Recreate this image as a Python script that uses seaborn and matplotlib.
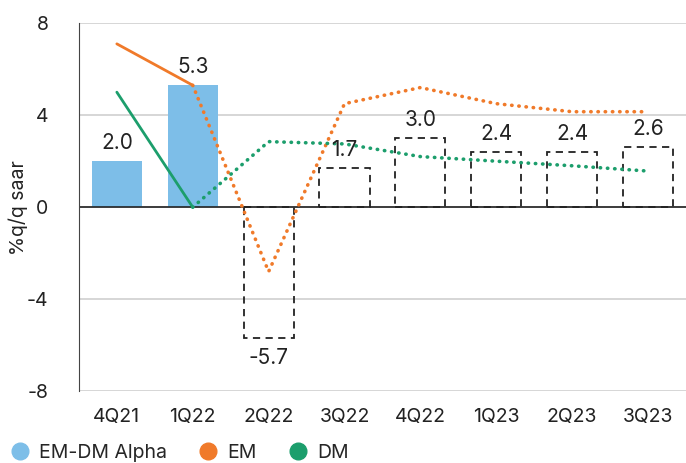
import numpy as np
import pandas as pd
import seaborn as sns
import matplotlib.pyplot as plt
from matplotlib.lines import Line2D

quarters = ['4Q21', '1Q22', '2Q22', '3Q22', '4Q22', '1Q23', '2Q23', '3Q23']
alpha = [2.0, 5.3, -5.7, 1.7, 3.0, 2.4, 2.4, 2.6]
em = [7.1, 5.3, -2.8, 4.5, 5.2, 4.5, 4.15, 4.15]
dm = [5.0, 0.0, 2.85, 2.75, 2.2, 2.0, 1.8, 1.57]
n_actual = 2  # first two quarters are actuals, rest forecast

blue = '#7DBEE8'
orange = '#F07A2A'
green = '#1C9E6C'

sns.set_style('white')
plt.rcParams['font.family'] = ['Inter', 'DejaVu Sans']

df = pd.DataFrame({'quarter': quarters, 'alpha': alpha})

fig = plt.figure(figsize=(6.86, 4.63), dpi=100)
ax = fig.add_axes([0.115, 0.155, 0.885, 0.795])

sns.barplot(data=df, x='quarter', y='alpha', color=blue, width=0.66,
            saturation=1, ax=ax)
for i, p in enumerate(ax.patches):
    if i >= n_actual:
        p.set_facecolor('none')
        p.set_edgecolor('#222222')
        p.set_linestyle((0, (4, 3)))
        p.set_linewidth(1.3)
    else:
        p.set_edgecolor('none')

x = np.arange(len(quarters))
for vals, c in [(em, orange), (dm, green)]:
    ax.plot(x[:n_actual], vals[:n_actual], color=c, lw=2, zorder=3)
    ax.plot(x[n_actual - 1:], vals[n_actual - 1:], color=c, lw=2.6,
            linestyle=(0, (0.1, 1.9)), dash_capstyle='round', zorder=3)

for i, v in enumerate(alpha):
    off = 6 if v >= 0 else -7
    ax.annotate(f'{v:.1f}', (i, v), xytext=(0, off), textcoords='offset points',
                ha='center', va='bottom' if v >= 0 else 'top', fontsize=15,
                color='#222222')

ax.set_ylim(-8, 8)
ax.set_xlim(-0.5, 7.5)
ax.set_yticks([-8, -4, 0, 4, 8])
ax.set_yticklabels(['-8', '-4', '0', '4', '8'])
ax.yaxis.grid(True, color='#D0D0D0', lw=1.2)
ax.set_axisbelow(True)
ax.axhline(0, color='#222222', lw=1.2, zorder=2)
for s in ['top', 'right', 'bottom']:
    ax.spines[s].set_visible(False)
ax.spines['left'].set_color('#444444')
ax.tick_params(axis='both', length=0, labelsize=14, colors='#222222')
ax.tick_params(axis='y', pad=22)
ax.tick_params(axis='x', pad=12)
ax.set_xlabel('')
ax.set_ylabel('%q/q saar', fontsize=14, color='#222222')
ax.yaxis.set_label_coords(-0.084, 0.5)

handles = [Line2D([], [], marker='o', ls='', color=c, markersize=12)
           for c in [blue, orange, green]]
fig.legend(handles, ['EM-DM Alpha', 'EM', 'DM'], loc='lower left',
           bbox_to_anchor=(-0.025, -0.035), ncol=3, frameon=False, fontsize=14,
           handletextpad=0.0, columnspacing=1.1)

fig.savefig('out.png', dpi=100)
